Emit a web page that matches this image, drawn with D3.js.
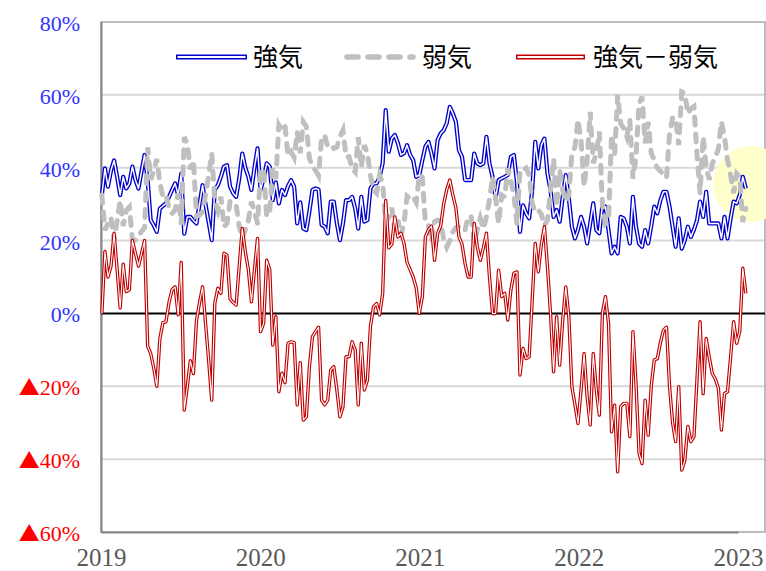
<!DOCTYPE html>
<html>
<head>
<meta charset="utf-8">
<script src="https://cdn.jsdelivr.net/npm/d3@7"></script>
<style>
  body { margin: 0; background: #fff; }
  svg { display: block; }
</style>
</head>
<body>
<svg id="chart"></svg>
<script>
// 週次データ（2019/1/3 から毎週）
const firstWeek = "2019-01-03";

const bullish = [
  32.5, 39.8, 34.8, 39.3, 42.0, 37.5, 32.5, 37.5, 34.3, 35.7,
  40.3, 36.6, 34.3, 39.0, 43.5, 36.6, 25.6, 24.2, 22.4, 28.8,
  29.5, 30.2, 32.0, 33.9, 35.7, 32.5, 38.4, 21.9, 26.5, 26.5,
  25.5, 24.7, 30.0, 35.2, 29.7, 25.0, 20.1, 33.9, 35.2, 37.5,
  40.3, 40.7, 34.8, 33.0, 32.0, 37.0, 43.9, 40.0, 37.5, 33.9,
  40.0, 45.3, 33.9, 37.0, 41.2, 40.3, 31.1, 36.0, 30.2, 33.9,
  32.5, 35.0, 36.6, 34.8, 24.7, 30.5, 23.3, 22.9, 28.0, 33.9,
  34.3, 34.0, 24.3, 23.8, 22.0, 30.7, 30.7, 24.7, 20.1, 24.7,
  31.1, 31.1, 32.0, 28.8, 23.3, 32.0, 25.2, 25.6, 34.3, 35.7,
  35.7, 37.5, 41.2, 55.8, 44.4, 48.0, 49.0, 46.7, 43.5, 44.0,
  46.2, 43.5, 42.1, 37.5, 38.0, 42.0, 45.8, 47.1, 43.9, 39.8,
  47.6, 49.4, 50.3, 52.2, 56.7, 54.9, 52.6, 44.8, 43.0, 36.6,
  36.6, 36.6, 43.9, 41.2, 40.7, 41.2, 48.5, 41.2, 37.5, 31.6,
  36.6, 37.1, 37.5, 38.0, 43.0, 43.5, 36.0, 22.4, 29.7, 27.5,
  26.1, 33.9, 47.1, 39.8, 46.2, 48.0, 38.4, 33.9, 26.5, 28.4,
  25.2, 32.0, 38.0, 31.6, 23.8, 20.6, 23.0, 26.5, 23.8, 19.2,
  24.7, 30.2, 22.9, 22.0, 29.7, 29.3, 22.9, 16.5, 18.3, 16.5,
  26.5, 26.1, 23.8, 19.2, 32.0, 23.8, 19.2, 18.3, 22.9, 19.2,
  24.0, 29.3, 27.5, 31.1, 33.4, 33.4, 29.3, 23.8, 18.3, 26.1,
  17.8, 20.1, 23.8, 21.0, 23.0, 25.6, 30.7, 26.5, 33.4, 24.7,
  24.7, 24.7, 24.7, 20.6, 26.5, 20.6, 26.0, 30.7, 30.2, 32.5,
  37.5, 34.3
];

const bearish = [
  32.5, 22.8, 24.8, 26.3, 20.0, 25.5, 31.0, 24.0, 28.3, 29.2,
  20.3, 20.1, 21.3, 22.5, 23.5, 45.6, 36.6, 39.2, 42.4, 35.8,
  32.0, 32.5, 29.0, 27.4, 28.4, 32.9, 24.4, 48.4, 46.5, 39.5,
  42.0, 26.7, 27.0, 27.9, 32.7, 38.0, 43.9, 31.1, 28.3, 32.0,
  23.8, 24.7, 30.8, 30.0, 29.7, 24.0, 20.6, 23.0, 25.5, 30.7,
  28.0, 24.7, 38.9, 39.7, 26.6, 28.3, 39.8, 36.9, 51.7, 50.3,
  51.5, 43.2, 44.4, 42.8, 49.8, 44.0, 52.6, 51.3, 42.6, 40.3,
  39.3, 37.8, 48.1, 48.9, 45.8, 46.2, 45.3, 45.7, 48.5, 50.3,
  43.0, 43.0, 39.8, 38.8, 48.4, 40.2, 46.2, 43.9, 37.9, 33.9,
  33.0, 37.9, 35.7, 24.8, 26.4, 29.0, 22.5, 25.7, 21.5, 24.8,
  32.2, 31.5, 32.1, 30.5, 38.0, 37.4, 24.8, 24.1, 19.9, 25.2,
  25.6, 25.4, 20.3, 18.2, 20.1, 22.4, 23.6, 23.8, 24.0, 22.9,
  26.6, 26.6, 19.2, 22.9, 26.1, 23.2, 26.5, 31.2, 37.5, 31.6,
  24.7, 32.5, 32.0, 39.8, 36.6, 32.5, 24.6, 39.3, 39.3, 39.9,
  38.0, 30.2, 27.9, 28.4, 27.2, 24.2, 25.6, 33.9, 42.5, 29.3,
  39.4, 33.8, 30.7, 32.5, 43.9, 45.6, 53.2, 47.5, 34.8, 42.1,
  55.3, 41.2, 43.9, 49.9, 29.7, 24.7, 25.6, 49.0, 43.5, 60.0,
  52.1, 50.8, 48.5, 53.0, 37.0, 43.0, 57.6, 59.5, 46.7, 52.6,
  44.0, 42.1, 39.9, 39.1, 38.0, 37.2, 49.3, 53.8, 53.5, 46.2,
  60.8, 60.4, 54.8, 56.2, 56.8, 43.6, 33.0, 48.5, 40.3, 36.7,
  41.2, 42.7, 45.2, 52.6, 48.5, 42.1, 38.0, 33.0, 38.4, 37.5,
  25.1, 28.8
];

const spread = [
  0, 17, 10, 13, 22, 12, 1.5, 13.5, 6, 6.5,
  20, 16.5, 13, 16.5, 20, -9, -11, -15, -20, -7,
  -2.5, -2.3, 3, 6.5, 7.3, -0.4, 14, -26.5, -20, -13,
  -16.5, -2, 3, 7.3, -3, -13, -23.8, 2.8, 6.9, 5.5,
  16.5, 16, 4, 3, 2.3, 13, 23.3, 17, 12, 3.2,
  12, 20.6, -5, -2.7, 14.6, 12, -8.7, -0.9, -21.5, -16.4,
  -19, -8.2, -7.8, -8, -25.1, -13.5, -29.3, -28.4, -14.6, -6.4,
  -5, -3.8, -23.8, -25.1, -23.8, -15.5, -14.6, -21, -28.4, -25.6,
  -11.9, -11.9, -7.8, -10, -25.1, -8.2, -21, -18.3, -3.6, 1.8,
  2.7, -0.4, 5.5, 31, 18, 19, 26.5, 21, 22, 19.2,
  14, 12, 10, 7, 0, 4.6, 21, 23, 24, 14.6,
  22, 24, 30, 34, 36.6, 32.5, 29, 21, 19, 13.7,
  10, 10, 24.7, 18.3, 14.6, 18, 22, 10, 0, 0,
  11.9, 4.6, 5.5, -1.8, 6.4, 11, 11.4, -16.9, -9.6, -12.4,
  -11.9, 3.7, 19.2, 11.4, 19, 23.8, 12.8, 0, -16, -0.9,
  -14.2, -1.8, 7.3, -0.9, -20.1, -25, -30.2, -21, -11, -22.9,
  -30.6, -11, -21, -27.9, 0, 4.6, -2.7, -32.5, -25.2, -43.5,
  -25.6, -24.7, -24.7, -33.8, -5, -19.2, -38.4, -41.2, -23.8, -33.4,
  -20, -12.8, -12.4, -8, -4.6, -3.8, -20, -30, -35.2, -20.1,
  -43, -40.3, -31, -35.2, -33.8, -18, -2.3, -22, -6.9, -12,
  -16.5, -18, -20.5, -32, -22, -21.5, -12, -2.3, -8.2, -5,
  12.4, 5.5
];

const yearTicks = [2019, 2020, 2021, 2022, 2023];
const yTicks = [80, 60, 40, 20, 0, -20, -40, -60];
const seriesNames = ["強気", "弱気", "強気－弱気"];

const W = 766, H = 571;
const plot = { left: 101, top: 22, right: 765, bottom: 532 };
const serif = "'Liberation Serif', 'Times New Roman', serif";

const svg = d3.select("#chart").attr("width", W).attr("height", H);

const start = new Date(firstWeek + "T00:00:00");
const dates = bullish.map((d, i) => d3.timeDay.offset(start, 7 * i));

const x = d3.scaleTime()
  .domain([new Date(2019, 0, 1), new Date(2023, 0, 1)])
  .range([101, 738]);
const y = d3.scaleLinear().domain([-60, 80]).range([plot.bottom, plot.top]);

// 目盛線
svg.append("g")
  .selectAll("line")
  .data(yTicks.filter(v => v !== 0 && v !== 80 && v !== -60))
  .join("line")
  .attr("x1", plot.left).attr("x2", plot.right)
  .attr("y1", d => y(d)).attr("y2", d => y(d))
  .attr("stroke", "#d9d9d9").attr("stroke-width", 2);

// 枠
svg.append("rect")
  .attr("x", plot.left).attr("y", plot.top)
  .attr("width", plot.right - plot.left).attr("height", plot.bottom - plot.top)
  .attr("fill", "none").attr("stroke", "#a6a6a6").attr("stroke-width", 1.5);

// y軸（ラベルは自前で描く）
const yaxis = d3.axisLeft(y).tickValues(yTicks).tickSize(0).tickFormat("");
const yg = svg.append("g")
  .attr("transform", `translate(${plot.left}, 0)`)
  .call(yaxis);
yg.select(".domain").attr("stroke", "#868686").attr("stroke-width", 2);

const ylab = svg.append("g")
  .selectAll("text")
  .data(yTicks)
  .join("text")
  .attr("x", 80)
  .attr("y", d => y(d) + 9)
  .attr("text-anchor", "end")
  .attr("font-family", serif)
  .attr("font-size", 22)
  .attr("fill", d => d < 0 ? "#ff0000" : "#3333ff");
ylab.filter(d => d < 0).append("tspan")
  .attr("font-family", "'Noto Sans CJK JP', sans-serif")
  .attr("font-size", 21)
  .text("▲");
ylab.append("tspan").text(d => `${Math.abs(d)}%`);

// x軸
const xaxis = d3.axisBottom(x)
  .tickValues(yearTicks.map(yr => new Date(yr, 0, 1)))
  .tickSize(0)
  .tickFormat(d3.timeFormat("%Y"));
const xg = svg.append("g")
  .attr("transform", `translate(0, ${plot.bottom})`)
  .call(xaxis);
xg.select(".domain").attr("stroke", "#868686").attr("stroke-width", 2);
xg.selectAll("text")
  .attr("y", 34)
  .attr("dy", 0)
  .attr("font-family", serif)
  .attr("font-size", 25)
  .attr("fill", "#595959");

// 黄色の丸
svg.append("circle")
  .attr("cx", 751).attr("cy", 184).attr("r", 38)
  .attr("fill", "#ffffcc");

// 0%線
svg.append("line")
  .attr("x1", plot.left).attr("x2", plot.right)
  .attr("y1", y(0)).attr("y2", y(0))
  .attr("stroke", "#000").attr("stroke-width", 2);

const line = d3.line()
  .x((d, i) => x(dates[i]))
  .y(d => y(d));

function doubleLine(values, color, outer, inner) {
  const g = svg.append("g").attr("fill", "none").attr("stroke-linejoin", "round");
  g.append("path").attr("d", line(values))
    .attr("stroke", color).attr("stroke-width", outer);
  g.append("path").attr("d", line(values))
    .attr("stroke", "#fff").attr("stroke-width", inner);
}

doubleLine(bullish, "#0000cc", 4.2, 1.5);

svg.append("path")
  .attr("d", line(bearish))
  .attr("fill", "none")
  .attr("stroke", "#bfbfbf")
  .attr("stroke-width", 5)
  .attr("stroke-linecap", "round")
  .attr("stroke-dasharray", "8,9");

doubleLine(spread, "#c00000", 3.4, 1.1);

// 凡例
const legend = [
  { name: seriesNames[0], x1: 176, x2: 247, tx: 253, type: "double", color: "#0000cc" },
  { name: seriesNames[1], x1: 347, x2: 413, tx: 422, type: "dash", color: "#bfbfbf" },
  { name: seriesNames[2], x1: 516, x2: 585, tx: 593, type: "double", color: "#c00000" }
];
const ly = 57;
legend.forEach(l => {
  if (l.type === "double") {
    svg.append("line").attr("x1", l.x1).attr("x2", l.x2).attr("y1", ly).attr("y2", ly)
      .attr("stroke", l.color).attr("stroke-width", 5);
    svg.append("line").attr("x1", l.x1 + 1.5).attr("x2", l.x2 - 1.5).attr("y1", ly).attr("y2", ly)
      .attr("stroke", "#fff").attr("stroke-width", 2);
  } else {
    svg.append("line").attr("x1", l.x1).attr("x2", l.x2).attr("y1", ly).attr("y2", ly)
      .attr("stroke", l.color).attr("stroke-width", 5.5)
      .attr("stroke-linecap", "round").attr("stroke-dasharray", "11,10");
  }
  svg.append("text")
    .attr("x", l.tx).attr("y", ly + 9)
    .attr("font-family", "'Noto Sans CJK JP', sans-serif")
    .attr("font-size", 25)
    .attr("fill", "#000")
    .text(l.name);
});
</script>
</body>
</html>
